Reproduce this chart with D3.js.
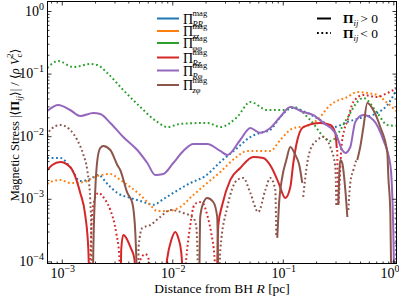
<!DOCTYPE html>
<html>
<head>
<meta charset="utf-8">
<style>
  body { margin: 0; background: #fff; }
  svg { display: block; font-family: "Liberation Serif", "DejaVu Serif", serif; }
</style>
</head>
<body>
<script src="https://cdn.jsdelivr.net/npm/d3@7"></script>
<script>

// data: [R in pc, Pi_ij / <rho Vc^2>], sign kept (negative -> dotted)

var piRR = [[7.39e-4,-4.49e-3],[9.69e-4,-4.49e-3],[1.19e-3,-3.22e-3],[1.47e-3,-1.92e-3],[1.81e-3,-2.07e-3],
	[2.14e-3,-2.4e-3],[2.64e-3,-1.66e-3],[3.18e-3,-1.24e-3],[4.17e-3,-1.03e-3],[5.47e-3,-8.9e-4],[6.73e-3,-8.0e-4],
	[8.3e-3,-9.9e-4],[1.02e-2,-1.24e-3],[1.46e-2,-1.79e-3],[1.99e-2,-2.31e-3],[2.72e-2,-3.87e-3],[3.87e-2,-6.48e-3],
	[5.08e-2,-9.7e-3],[6.25e-2,-1.13e-2],[7.71e-2,-1.26e-2],[9.48e-2,-2.03e-2],[0.122,-2.82e-2],[0.167,-2.35e-2],
	[0.218,-1.82e-2],[0.286,-1.40e-2],[0.384,-1.69e-2],[0.502,-1.95e-2],[0.716,-2.35e-2],[0.883,-3.15e-2],[1.087,-5.89e-2]];

var piZZ = [[7.39e-4,-1.72e-3],[7.87e-4,-1.85e-3],[9.69e-4,-2.0e-3],[1.19e-3,-1.79e-3],[1.57e-3,-1.85e-3],
	[2.1e-3,-2.31e-3],[2.75e-3,-2.49e-3],[3.38e-3,-2.0e-3],[4.17e-3,-1.54e-3],[5.13e-3,-1.15e-3],[6.32e-3,-7.96e-4],
	[7.31e-3,-6.38e-4],[9.01e-3,-6.38e-4],[1.18e-2,-7.4e-4],[1.55e-2,-1.15e-3],[2.07e-2,-1.79e-3],[2.72e-2,-2.68e-3],
	[3.72e-2,-4.49e-3],[4.78e-2,-5.8e-3],[6.25e-2,-5.8e-3],[7.71e-2,-5.8e-3],[9.48e-2,-8.69e-3],[0.1245,-1.35e-2],
	[0.167,-1.46e-2],[0.205,-1.82e-2],[0.269,-3.15e-2],[0.384,-4.23e-2],[0.472,-5.08e-2],[0.582,-4.9e-2],
	[0.716,-4.55e-2],[0.883,-3.39e-2],[1.087,-2.44e-2]];

var piPP = [[7.39e-4,-0.123],[9.3e-4,-0.159],[1.27e-3,-0.127],[1.81e-3,-0.142],[2.1e-3,-0.137],[2.58e-3,-0.102],
	[3.6e-3,-5.47e-2],[5.13e-3,-2.93e-2],[7.31e-3,-1.69e-2],[9.01e-3,-1.40e-2],[1.18e-2,-1.57e-2],[2.07e-2,-1.63e-2],
	[2.72e-2,-1.40e-2],[3.87e-2,-2.03e-2],[5.08e-2,-3.52e-2],[7.24e-2,-2.62e-2],[0.101,-2.62e-2],[0.1245,-2.93e-2],
	[0.177,-1.82e-2],[0.253,-8.7e-3],[0.269,-8.4e-3],[0.384,-1.95e-2],[0.472,-3.52e-2],[0.535,-4.08e-2],
	[0.716,-2.35e-2],[0.883,-1.51e-2],[1.087,-1.46e-2]];

var piRz = [[7.39e-4,2.88e-3],[8.2e-4,3.47e-3],[9.69e-4,3.87e-3],[1.19e-3,3.22e-3],[1.47e-3,1.24e-3],[1.63e-3,5.5e-4],
	[1.74e-3,1.52e-4],[1.775e-3,4e-5],
	[1.79e-3,-4e-5],[1.85e-3,-3.17e-4],[1.93e-3,-7.96e-4],[2.14e-3,-1.24e-3],[2.48e-3,-9.57e-4],[2.75e-3,-6.62e-4],
	[3.11e-3,-2.84e-4],[3.31e-3,-1.26e-4],[3.38e-3,-4e-5],
	[3.42e-3,4e-5],[3.45e-3,1.52e-4],[3.6e-3,2.64e-4],[3.92e-3,2.2e-4],[4.17e-3,1.7e-4],[4.53e-3,1.13e-4],[4.72e-3,4e-5],
	[4.82e-3,-4e-5],[5.13e-3,-1.05e-4],[5.7e-3,-1.31e-4],[6.07e-3,-1.13e-4],[6.46e-3,-4e-5],
	[8.47e-3,4e-5],[9.01e-3,1.13e-4],[9.8e-3,2.2e-4],[1.065e-2,2.95e-4],[1.133e-2,2.37e-4],[1.205e-2,1.41e-4],[1.258e-2,4e-5],
	[1.28e-2,-4e-5],[1.34e-2,-1.13e-4],[1.455e-2,-3.81e-4],[1.58e-2,-7.96e-4],[1.755e-2,-8.89e-4],[1.91e-2,-8.26e-4],
	[2.07e-2,-5.51e-4],[2.25e-2,-2.84e-4],[2.4e-2,-1.26e-4],[2.5e-2,-4e-5],
	[2.53e-2,4e-5],[2.61e-2,3.81e-4],[2.83e-2,7.96e-4],[3.35e-2,2.0e-3],[4.12e-2,3.1e-3],[5.41e-2,4.66e-3],[6.66e-2,4.49e-3],
	[7.87e-2,3.22e-3],[9.1e-2,1.85e-3],[0.1054,1.03e-3],[0.117,1.54e-3],[0.1245,3.73e-3],[0.1324,7.23e-3],[0.153,1.40e-2],
	[0.218,1.63e-2],[0.269,1.51e-2],[0.2985,1.13e-2],[0.308,6.48e-3],
	[0.311,-6.02e-3],[0.318,-7.96e-4],[0.324,-1.38e-3],[0.338,-6.02e-3],[0.36,-1.26e-2],[0.384,-1.75e-2],[0.435,-3.52e-2],
	[0.535,-4.55e-2],[0.716,-4.23e-2],[0.883,-4.9e-2],[1.087,-5.89e-2]];

var piRp = [[7.39e-4,2.53e-2],[9.3e-4,3.15e-2],[1.19e-3,2.62e-2],[1.47e-3,2.1e-2],[1.93e-3,2.35e-2],[2.23e-3,2.26e-2],
	[2.75e-3,1.63e-2],[3.6e-3,9.7e-3],[4.82e-3,6.02e-3],[5.94e-3,3.73e-3],[7.02e-3,2.4e-3],[8.3e-3,2.49e-3],
	[1.02e-2,3.73e-3],[1.258e-2,5.8e-3],[1.55e-2,7.5e-3],[2.07e-2,7.5e-3],[2.72e-2,5.8e-3],[3.15e-2,5.01e-3],
	[4.12e-2,8.69e-3],[5.08e-2,1.35e-2],[6.25e-2,1.13e-2],[7.71e-2,1.35e-2],[9.48e-2,2.03e-2],[0.117,2.93e-2],
	[0.153,2.44e-2],[0.189,2.18e-2],[0.233,1.63e-2],[0.2985,1.13e-2],[0.345,6.02e-3],[0.368,5.4e-3],[0.408,6.72e-3],
	[0.453,1.69e-2],[0.535,2.18e-2],[0.659,1.82e-2],[0.812,8.69e-3],[0.94,3.47e-3],[1.0,3.17e-4],[1.02,4e-5],
	[1.043,-4e-5],[1.065,-3e-4],[1.087,-1.2e-3]];

var piZp = [[7.39e-4,-1.01e-2],[7.87e-4,-1.26e-2],[9.69e-4,-1.51e-2],[1.19e-3,-1.26e-2],[1.38e-3,-8.69e-3],
	[1.57e-3,-5.01e-3],[1.70e-3,-2.88e-3],[1.81e-3,-9.57e-4],[1.85e-3,-2.64e-4],[1.87e-3,-4e-5],
	[1.91e-3,4e-5],[1.93e-3,1.5e-4],[2.01e-3,1.4e-3],[2.1e-3,4.2e-3],[2.23e-3,6.48e-3],[2.375e-3,6.97e-3],[2.75e-3,6.02e-3],
	[3.18e-3,3.47e-3],[3.38e-3,2.88e-3],[3.92e-3,1.24e-3],[4.35e-3,8.57e-4],[4.63e-3,2.84e-4],[4.82e-3,4e-5],
	[4.92e-3,-4e-5],[4.95e-3,-1.7e-4],[5.35e-3,-3.42e-4],[6.32e-3,-3.81e-4],[7.78e-3,-5.12e-4],[9.6e-3,-6.62e-4],
	[1.258e-2,-5.93e-4],[1.55e-2,-4.94e-4],[1.65e-2,-3.55e-4],[1.72e-2,-4e-5],
	[1.755e-2,4e-5],[1.79e-2,5.12e-4],[1.91e-2,8.57e-4],[2.07e-2,1.03e-3],[2.35e-2,8.89e-4],[2.55e-2,5.12e-4],[2.61e-2,4e-5],
	[2.66e-2,-4e-5],[2.72e-2,-1.52e-4],[3.15e-2,-7.4e-4],[3.87e-2,-2.0e-3],[4.4e-2,-2.15e-3],[5.08e-2,-1.24e-3],
	[6.0e-2,-6.15e-4],[6.95e-2,-1.38e-3],[7.71e-2,-2.15e-3],[8.55e-2,-1.38e-3],[8.73e-2,-2.5e-4],
	[8.91e-2,2.37e-4],[9.3e-2,9.57e-4],[9.89e-2,2.23e-3],[0.1076,4.17e-3],[0.117,6.72e-3],[0.1298,5.01e-3],
	[0.141,3.47e-3],[0.15,1.79e-3],
	[0.153,-1.07e-3],[0.1665,-3.73e-3],[0.177,-6.02e-3],[0.205,-8.69e-3],[0.233,-9.7e-3],[0.269,-6.72e-3],
	[0.2985,-3.22e-3],[0.305,-7.4e-4],
	[0.318,7.96e-4],[0.331,4.17e-3],[0.345,3.73e-3],[0.368,1.38e-3],[0.384,5.12e-4],
	[0.392,-6.62e-4],[0.408,-1.79e-3],[0.435,-2.88e-3],[0.4625,-4.17e-3],
	[0.472,4.17e-3],[0.502,6.72e-3],[0.535,1.35e-2],[0.582,3.39e-2],[0.659,2.62e-2],[0.762,1.40e-2],[0.883,5.4e-3],
	[0.902,2.23e-3],[0.94,5.93e-4],[0.96,4e-5]];

var names   = ['RR', 'zz', 'φφ', 'Rz', 'Rφ', 'zφ'];
var colors  = ['#1f77b4', '#ff7f0e', '#2ca02c', '#d62728', '#9467bd', '#8c564b'];
var curves  = [piRR, piZZ, piPP, piRz, piRp, piZp];

var xMajor = [1e-3, 1e-2, 1e-1, 1e0];
var yMajor = [1e-4, 1e-3, 1e-2, 1e-1, 1e0];
var xExp   = ['−3', '−2', '−1', '0'];
var yExp   = ['−4', '−3', '−2', '−1', '0'];


// layout ///////////////////////////////////////////////////////////////

var W = 399, H = 296;
var m = {left: 47, right: 397, top: 1, bottom: 264};

var svg = d3.select('body').append('svg')
	.attr('width', W)
	.attr('height', H);

var x = d3.scaleLog().domain([7.35e-4, 1.08]).range([m.left, m.right]);
var y = d3.scaleLog().domain([9.08e-5, 1.445]).range([m.bottom, m.top]);

function minors(lo, hi) {
	var out = [];
	for (var e = Math.floor(Math.log10(lo)); e <= Math.ceil(Math.log10(hi)); e++)
		for (var k = 2; k <= 9; k++) {
			var v = k * Math.pow(10, e);
			if (v > lo && v < hi) out.push(v);
		}
	return out;
}
var xMinor = minors(x.domain()[0], x.domain()[1]);
var yMinor = minors(y.domain()[0], y.domain()[1]);


// curves ///////////////////////////////////////////////////////////////

svg.append('clipPath').attr('id', 'clip')
	.append('rect')
		.attr('x', m.left).attr('y', m.top)
		.attr('width', m.right - m.left).attr('height', m.bottom - m.top);

var line = d3.line()
	.x(d => x(d[0]))
	.y(d => y(Math.abs(d[1])))
	.curve(d3.curveMonotoneX);

// split a signed series into runs of one sign
function runs(pts) {
	var out = [], cur = null;
	pts.forEach(p => {
		var pos = p[1] > 0;
		if (!cur || cur.pos !== pos) { cur = {pos: pos, pts: []}; out.push(cur); }
		cur.pts.push(p);
	});
	return out;
}

var plot = svg.append('g').attr('clip-path', 'url(#clip)');
curves.forEach((c, i) => {
	plot.append('g')
		.selectAll('path')
		.data(runs(c))
		.join('path')
			.attr('d', d => line(d.pts))
			.attr('fill', 'none')
			.attr('stroke', colors[i])
			.attr('stroke-width', 2)
			.attr('stroke-dasharray', d => d.pos ? null : '1.8,2.6');
});


// axes /////////////////////////////////////////////////////////////////

function ticks(axis, transform, values, size) {
	svg.append('g')
		.attr('transform', transform)
		.call(axis.tickValues(values).tickSize(size).tickFormat(''))
		.call(g => g.select('.domain').remove())
		.call(g => g.selectAll('.tick line').attr('stroke', '#000').attr('stroke-width', 0.8));
}
ticks(d3.axisBottom(x), `translate(0,${m.bottom})`, xMajor, -4.5);
ticks(d3.axisBottom(x), `translate(0,${m.bottom})`, xMinor, -2.5);
ticks(d3.axisTop(x),    `translate(0,${m.top})`,    xMajor, -4.5);
ticks(d3.axisTop(x),    `translate(0,${m.top})`,    xMinor, -2.5);
ticks(d3.axisLeft(y),   `translate(${m.left},0)`,   yMajor, -4.5);
ticks(d3.axisLeft(y),   `translate(${m.left},0)`,   yMinor, -2.5);
ticks(d3.axisRight(y),  `translate(${m.right},0)`,  yMajor, -4.5);
ticks(d3.axisRight(y),  `translate(${m.right},0)`,  yMinor, -2.5);

svg.append('rect')
	.attr('x', m.left + 0.5).attr('y', m.top + 0.5)
	.attr('width', m.right - m.left - 1).attr('height', m.bottom - m.top - 1)
	.attr('fill', 'none')
	.attr('stroke', '#000')
	.attr('stroke-width', 1);

// tick labels as 10^n
function power(g, e) {
	g.append('tspan').text('10');
	g.append('tspan').attr('dy', -6).attr('font-size', 10).text(e);
}
xMajor.forEach((v, i) => {
	svg.append('text')
		.attr('x', Math.min(x(v) + 1, 390)).attr('y', 277.5)
		.attr('text-anchor', 'middle')
		.attr('font-size', 14)
		.call(power, xExp[i]);
});
yMajor.forEach((v, i) => {
	svg.append('text')
		.attr('x', 44).attr('y', y(v) + 4.5)
		.attr('text-anchor', 'end')
		.attr('font-size', 14)
		.call(power, yExp[i]);
});

// axis labels
var xl = svg.append('text')
	.attr('x', 222).attr('y', 293)
	.attr('text-anchor', 'middle')
	.attr('font-size', 13.5);
xl.append('tspan').text('Distance from BH ');
xl.append('tspan').attr('font-style', 'italic').text('R');
xl.append('tspan').text(' [pc]');

var yl = svg.append('text')
	.attr('transform', 'translate(19,125) rotate(-90)')
	.attr('text-anchor', 'middle')
	.attr('font-size', 12.5);
yl.append('tspan').text('Magnetic Stress |⟨');
yl.append('tspan').attr('font-weight', 'bold').text('Π');
yl.append('tspan').attr('font-size', 8.5).attr('font-style', 'italic').attr('dy', 3).text('ij');
yl.append('tspan').attr('dy', -3).text('⟩| / ⟨');
yl.append('tspan').attr('font-style', 'italic').text('ρ V');
yl.append('tspan').attr('font-size', 8.5).attr('dy', 3).text('c');
yl.append('tspan').attr('font-size', 8.5).attr('dx', -4.2).attr('dy', -9).text('2');
yl.append('tspan').attr('dy', 6).text('⟩');


// legends //////////////////////////////////////////////////////////////

var rowY = [18.5, 31, 43, 57.5, 70.5, 85];
var leg = svg.append('g');
names.forEach((n, i) => {
	var r = leg.append('g').attr('transform', `translate(0,${rowY[i]})`);
	r.append('line')
		.attr('x1', 157).attr('x2', 179)
		.attr('stroke', colors[i]).attr('stroke-width', 2);
	r.append('text')
		.attr('x', 183).attr('y', 5)
		.attr('font-size', 14)
		.text('Π');
	r.append('text')
		.attr('x', 192.5).attr('y', -2.5)
		.attr('font-size', 8.5)
		.text('mag');
	r.append('text')
		.attr('x', 192.5).attr('y', 8)
		.attr('font-size', 8.5)
		.attr('font-style', 'italic')
		.text(n);
});

var signY = [18.5, 33];
var signs = ['> 0', '< 0'];
signY.forEach((sy, i) => {
	var r = svg.append('g').attr('transform', `translate(0,${sy})`);
	r.append('line')
		.attr('x1', 317).attr('x2', 331)
		.attr('stroke', '#000').attr('stroke-width', 2)
		.attr('stroke-dasharray', i ? '1.8,2.6' : null);
	var t = r.append('text')
		.attr('x', 343).attr('y', 4.5)
		.attr('font-size', 13.5);
	t.append('tspan').attr('font-weight', 'bold').text('Π');
	t.append('tspan').attr('font-size', 8.5).attr('font-style', 'italic').attr('dy', 3).text('ij');
	t.append('tspan').attr('dy', -3).attr('dx', 2).text(signs[i]);
});

</script>
</body>
</html>
